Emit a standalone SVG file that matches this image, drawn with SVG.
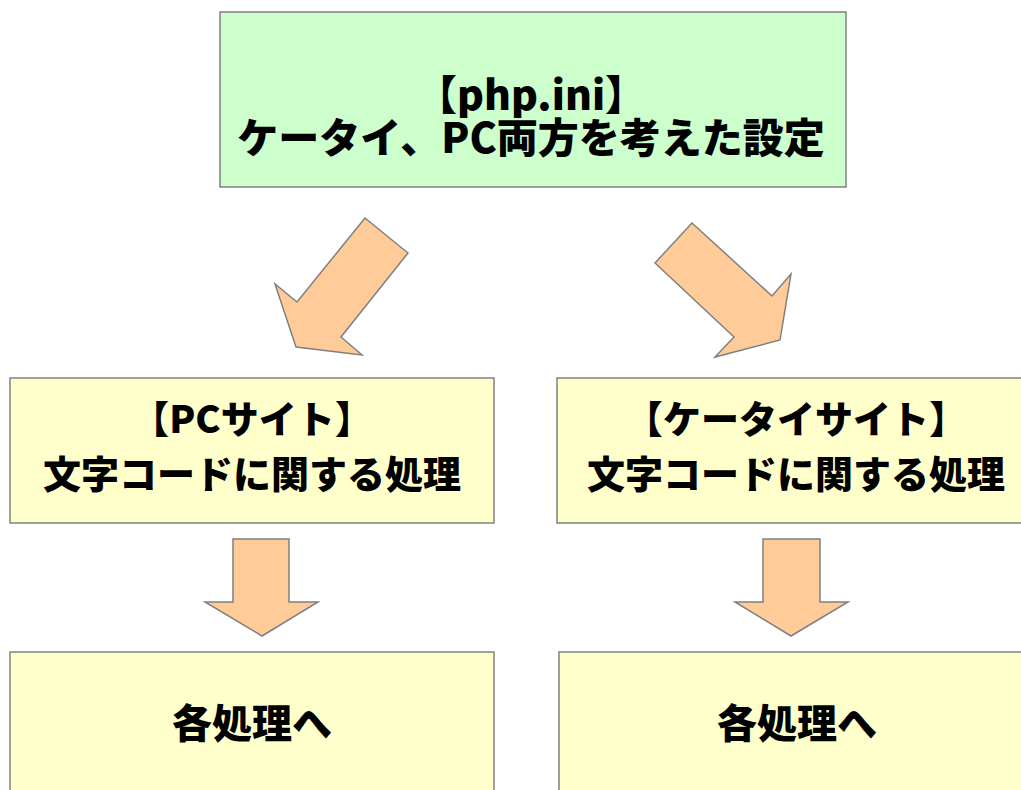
<svg xmlns="http://www.w3.org/2000/svg" width="1021" height="790" viewBox="0 0 1021 790">
<style>
.green{fill:#CCFFCC;stroke:#808080;stroke-width:1.5}
.yellow{fill:#FFFFCC;stroke:#808080;stroke-width:1.5}
.arrow{fill:#FFCC99;stroke:#808080;stroke-width:1.5;stroke-linejoin:miter}
text{font-family:"Noto Sans CJK JP","Noto Sans",sans-serif;font-weight:900;fill:#000;text-anchor:middle}
.t1{font-size:41px}
.t2{font-size:38px}
.t3{font-size:40px}
</style>
<rect width="1021" height="790" fill="#FFFFFF"/>
<g id="node-phpini">
<rect class="green" x="220" y="12" width="626" height="175"/>
<text class="t1" x="531" y="110">【php.ini】</text>
<text class="t1" x="531" y="153">ケータイ、PC両方を考えた設定</text>
</g>
<g id="node-pc">
<rect class="yellow" x="10" y="378" width="484" height="145"/>
<text class="t2" x="252" y="433">【PCサイト】</text>
<text class="t2" x="252" y="488">文字コードに関する処理</text>
</g>
<g id="node-keitai">
<rect class="yellow" x="557" y="378" width="480" height="145"/>
<text class="t2" x="796" y="433">【ケータイサイト】</text>
<text class="t2" x="796" y="488">文字コードに関する処理</text>
</g>
<g id="node-pc-each">
<rect class="yellow" x="10" y="652" width="484" height="150"/>
<text class="t3" x="252" y="738">各処理へ</text>
</g>
<g id="node-keitai-each">
<rect class="yellow" x="559" y="652" width="480" height="150"/>
<text class="t3" x="797" y="738">各処理へ</text>
</g>
<g id="connectors">
<polygon class="arrow" points="365,218 408,253 341,337 362,355 296,347 275,284 297,302"/>
<polygon class="arrow" points="692,223 655,263 734,337 715,357 780,340 791,274 772,296"/>
<polygon class="arrow" points="233,539 289,539 289,602 318,602 262,636 205,602 233,602"/>
<polygon class="arrow" points="763,539 820,539 820,602 848,602 791,636 735,602 763,602"/>
</g>
</svg>
